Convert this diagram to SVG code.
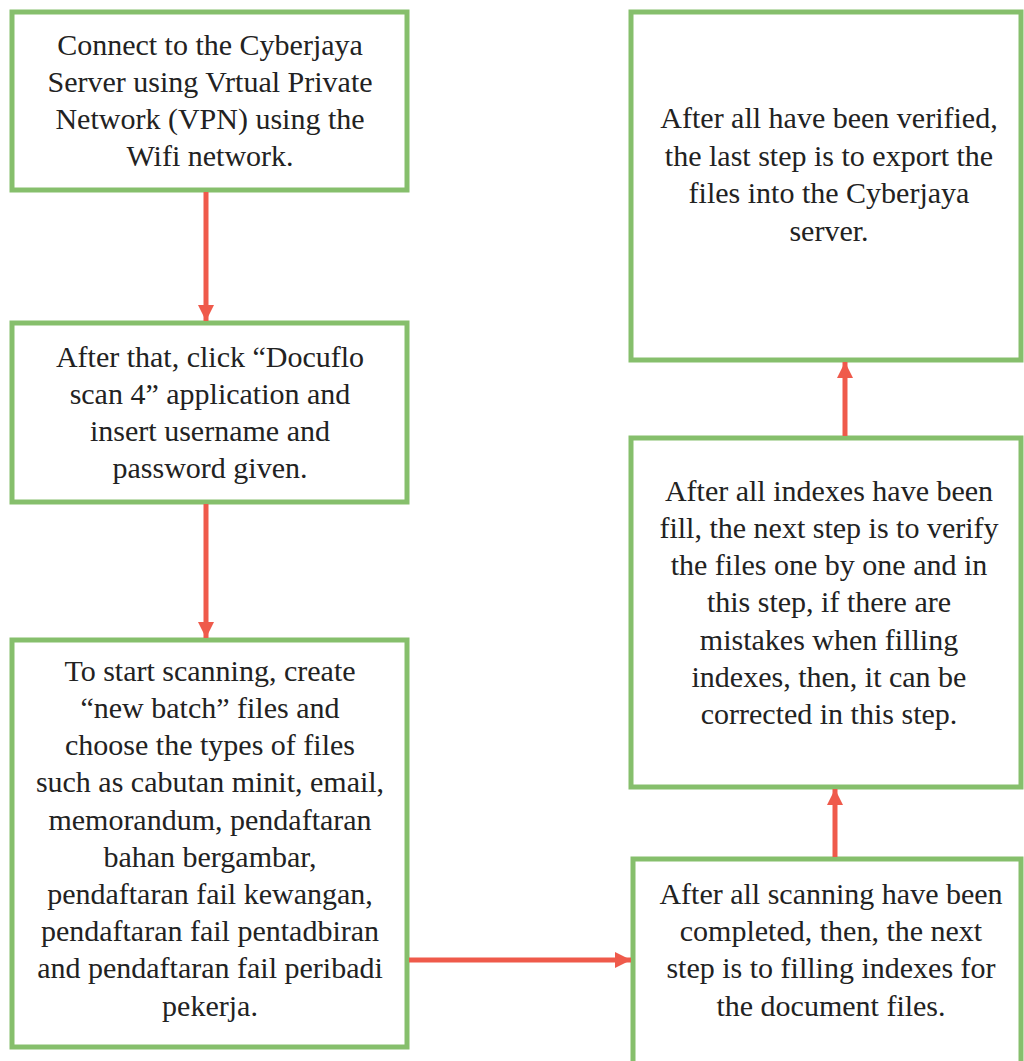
<svg xmlns="http://www.w3.org/2000/svg" width="1024" height="1061" viewBox="0 0 1024 1061">
  <style>
    .box { fill: #ffffff; stroke: #86bf6c; stroke-width: 5; }
    .label { font-family: "Liberation Serif", "Times New Roman", serif; font-size: 30px; fill: #222222; text-anchor: middle; }
    .flow { stroke: #ef5a4b; stroke-width: 5; fill: none; }
  </style>
  <defs>
    <marker id="head" markerUnits="userSpaceOnUse" markerWidth="18" markerHeight="18" refX="16" refY="9" orient="auto">
      <path d="M0,1 L16,9 L0,17 Z" fill="#ef5a4b"/>
    </marker>
  </defs>
  <rect width="1024" height="1061" fill="#ffffff"/>

  <!-- step 1: VPN connection -->
  <g id="step-connect">
    <rect class="box" x="12" y="12" width="395" height="178"/>
    <text class="label" x="210" y="55">Connect to the Cyberjaya</text>
    <text class="label" x="210" y="92">Server using Vrtual Private</text>
    <text class="label" x="210" y="129">Network (VPN) using the</text>
    <text class="label" x="210" y="166">Wifi network.</text>
  </g>

  <!-- step 2: log in to Docuflo -->
  <g id="step-login">
    <rect class="box" x="12" y="323" width="395" height="179"/>
    <text class="label" x="210" y="367">After that, click “Docuflo</text>
    <text class="label" x="210" y="404">scan 4” application and</text>
    <text class="label" x="210" y="441">insert username and</text>
    <text class="label" x="210" y="478">password given.</text>
  </g>

  <!-- step 3: scanning batches -->
  <g id="step-scan">
    <rect class="box" x="12" y="640" width="395" height="407"/>
    <text class="label" x="210" y="681">To start scanning, create</text>
    <text class="label" x="210" y="718">“new batch” files and</text>
    <text class="label" x="210" y="755">choose the types of files</text>
    <text class="label" x="210" y="792">such as cabutan minit, email,</text>
    <text class="label" x="210" y="830">memorandum, pendaftaran</text>
    <text class="label" x="210" y="867">bahan bergambar,</text>
    <text class="label" x="210" y="904">pendaftaran fail kewangan,</text>
    <text class="label" x="210" y="941">pendaftaran fail pentadbiran</text>
    <text class="label" x="210" y="978">and pendaftaran fail peribadi</text>
    <text class="label" x="210" y="1016">pekerja.</text>
  </g>

  <!-- step 4: filling indexes -->
  <g id="step-index">
    <rect class="box" x="633" y="859" width="388" height="220"/>
    <text class="label" x="831" y="904">After all scanning have been</text>
    <text class="label" x="831" y="941">completed, then, the next</text>
    <text class="label" x="831" y="978">step is to filling indexes for</text>
    <text class="label" x="831" y="1016">the document files.</text>
  </g>

  <!-- step 5: verification -->
  <g id="step-verify">
    <rect class="box" x="631" y="438" width="390" height="349"/>
    <text class="label" x="829" y="501">After all indexes have been</text>
    <text class="label" x="829" y="538">fill, the next step is to verify</text>
    <text class="label" x="829" y="575">the files one by one and in</text>
    <text class="label" x="829" y="612">this step, if there are</text>
    <text class="label" x="829" y="650">mistakes when filling</text>
    <text class="label" x="829" y="687">indexes, then, it can be</text>
    <text class="label" x="829" y="724">corrected in this step.</text>
  </g>

  <!-- step 6: export -->
  <g id="step-export">
    <rect class="box" x="631" y="12" width="390" height="348"/>
    <text class="label" x="829" y="128">After all have been verified,</text>
    <text class="label" x="829" y="166">the last step is to export the</text>
    <text class="label" x="829" y="203">files into the Cyberjaya</text>
    <text class="label" x="829" y="241">server.</text>
  </g>

  <!-- flow arrows -->
  <g id="connectors">
    <line class="flow" x1="206" y1="192" x2="206" y2="321" marker-end="url(#head)"/>
    <line class="flow" x1="206" y1="504" x2="206" y2="638" marker-end="url(#head)"/>
    <line class="flow" x1="409" y1="960" x2="631" y2="960" marker-end="url(#head)"/>
    <line class="flow" x1="835" y1="857" x2="835" y2="789" marker-end="url(#head)"/>
    <line class="flow" x1="845" y1="436" x2="845" y2="362" marker-end="url(#head)"/>
  </g>
</svg>
